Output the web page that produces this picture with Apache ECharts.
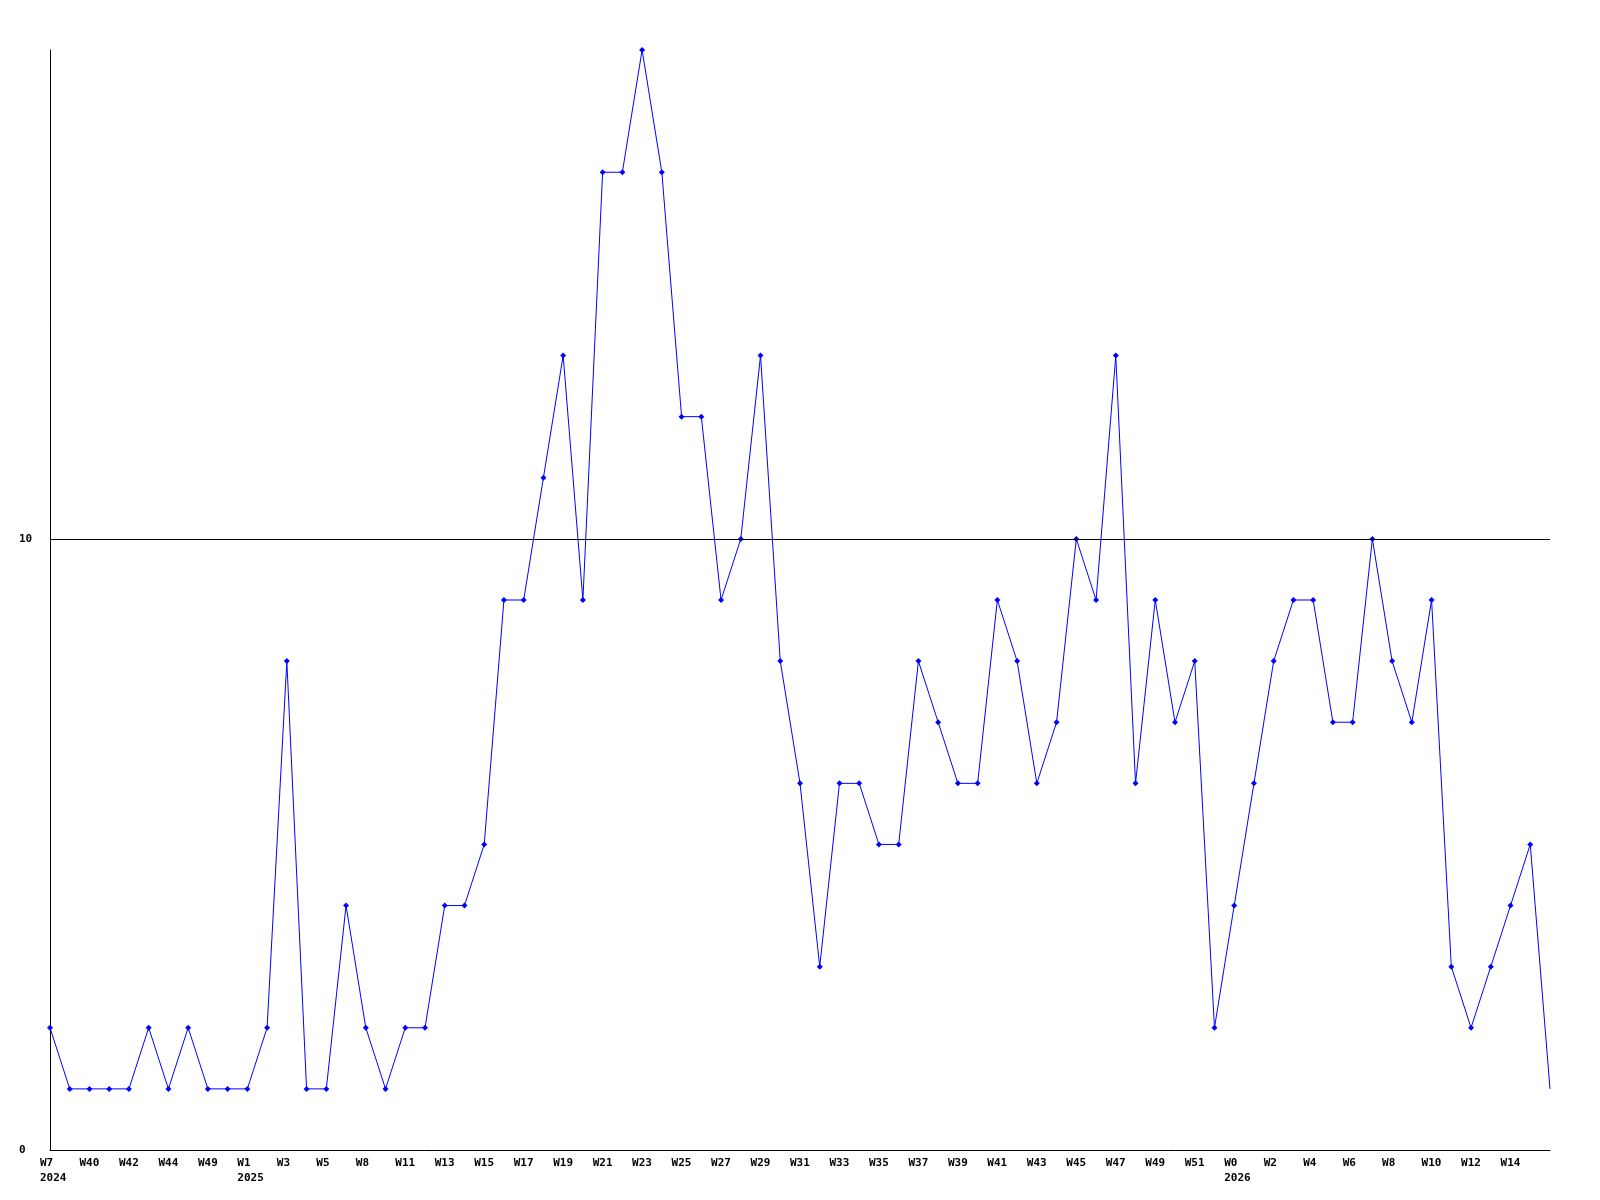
<!DOCTYPE html>
<html>
<head>
<meta charset="utf-8">
<script src="https://cdn.jsdelivr.net/npm/echarts@6/dist/echarts.min.js"></script>
<style>html,body{margin:0;padding:0;background:#fff}#c{width:1600px;height:1200px}</style>
</head>
<body>
<div id="c"></div>
<script>
const weeks = ['W7','W39','W40','W41','W42','W43','W44','W45','W49','W51','W1','W2','W3','W4','W5','W6','W8','W10',
  'W11','W12','W13','W14','W15','W16','W17','W18','W19','W20','W21','W22','W23','W24','W25','W26','W27','W28','W29','W30',
  'W31','W32','W33','W34','W35','W36','W37','W38','W39','W40','W41','W42','W43','W44','W45','W46','W47','W48','W49','W50',
  'W51','W52','W0','W1','W2','W3','W4','W5','W6','W7','W8','W9','W10','W11','W12','W13','W14','W15','W16'];
const years = {0:'2024', 10:'2025', 60:'2026'};
const values = [2,1,1,1,1,2,1,2,1,1,1,2,8,1,1,4,2,1,2,2,4,4,5,9,9,11,13,9,16,16,18,16,12,12,9,10,13,8,6,3,6,6,5,5,8,7,6,6,9,8,6,7,10,9,13,6,9,7,8,2,4,6,8,9,9,7,7,10,8,7,9,3,2,3,4,5,1];
const yTicks = [0, 10];
const refLine = 10;

const categories = weeks.map((w, i) => i);
const seriesData = values.map((v, i) => i === values.length - 1 ? {value: v, symbol: 'none'} : v);

const chart = echarts.init(document.getElementById('c'));
const font = {fontFamily: 'DejaVu Sans Mono', fontWeight: 'bold', fontSize: 11, color: '#000'};
chart.setOption({
  animation: false,
  backgroundColor: '#fff',
  grid: {left: 50, right: 50, top: 50, bottom: 50},
  xAxis: {
    type: 'category', data: categories, boundaryGap: false,
    axisLine: {lineStyle: {color: '#000', width: 1}},
    axisTick: {show: false},
    splitLine: {show: false},
    axisLabel: Object.assign({
      interval: 1, margin: 6, align: 'center',
      formatter: (v, i) => {
        if (i === weeks.length - 1) return '';
        let s = '{a|' + weeks[i] + '}';
        if (years[i]) s += '\n{a|' + years[i] + '}';
        return s;
      },
      rich: {a: Object.assign({width: 20, align: 'left', lineHeight: 15}, font)}
    }, font)
  },
  yAxis: {
    type: 'value', min: 0, max: 18, interval: 10,
    axisLine: {show: true, lineStyle: {color: '#000', width: 1}},
    axisTick: {show: false},
    splitLine: {show: false},
    axisLabel: Object.assign({margin: 31, align: 'left',
      formatter: v => yTicks.indexOf(v) >= 0 ? String(v) : ''}, font)
  },
  series: [{
    type: 'line', data: seriesData,
    symbol: 'diamond', symbolSize: 6, showAllSymbol: true,
    lineStyle: {color: '#0000ff', width: 1},
    itemStyle: {color: '#0000ff'},
    markLine: {
      silent: true, symbol: 'none', label: {show: false},
      lineStyle: {color: '#000', width: 1, type: 'solid'},
      data: [{yAxis: refLine}]
    }
  }]
});
</script>
</body>
</html>
